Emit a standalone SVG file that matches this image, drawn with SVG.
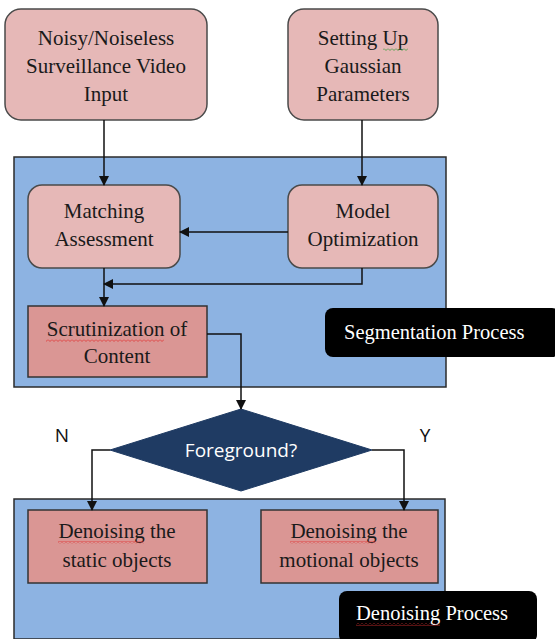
<svg xmlns="http://www.w3.org/2000/svg" width="555" height="639" viewBox="0 0 555 639">
<style>
.rbox{fill:#e6b8b7;stroke:#4a4a4a;stroke-width:1.5}
.sbox{fill:#da9694;stroke:#333;stroke-width:1.5}
.panel{fill:#8db3e2;stroke:#2b2b2b;stroke-width:1.5}
.t{font-family:"Liberation Serif","Times New Roman",serif;font-size:21px;fill:#1a1a1a;text-anchor:middle}
.lab{font-family:"Liberation Serif","Times New Roman",serif;font-size:20.5px;fill:#fff}
.sans{font-family:"Open Sans","Liberation Sans",sans-serif;font-size:19px;text-anchor:middle}
.yn{font-family:"Open Sans","Liberation Sans",sans-serif;font-size:19px;fill:#111;text-anchor:middle}
.conn{fill:none;stroke:#111;stroke-width:1.5}
</style>
<defs>
<marker id="ah" markerWidth="10" markerHeight="10" refX="9" refY="5" orient="auto" markerUnits="userSpaceOnUse">
<path d="M0,0 L10,5 L0,10 z" fill="#111"/>
</marker>
<pattern id="wavyRed" width="4" height="3" patternUnits="userSpaceOnUse">
<path d="M0,0.5 L2,2.5 L4,0.5" fill="none" stroke="#e03030" stroke-width="0.8"/>
</pattern>
<pattern id="wavyGreen" width="4" height="3" patternUnits="userSpaceOnUse">
<path d="M0,0.5 L2,2.5 L4,0.5" fill="none" stroke="#3a9a3a" stroke-width="0.8"/>
</pattern>
</defs>
<rect width="555" height="639" fill="#fff"/>
<g id="panel-seg"><rect class="panel" x="14" y="157" width="432" height="230"/></g>
<g id="panel-den"><rect class="panel" x="14" y="499" width="431" height="140"/></g>

<g id="n-input">
<rect class="rbox" x="5" y="9" width="202" height="111" rx="16"/>
<text class="t" x="106" y="45">Noisy/Noiseless</text>
<text class="t" x="106" y="73">Surveillance Video</text>
<text class="t" x="106" y="101">Input</text>
</g>
<g id="n-gauss">
<rect class="rbox" x="288" y="9" width="150" height="111" rx="16"/>
<text class="t" x="363" y="45">Setting Up</text>
<text class="t" x="363" y="73">Gaussian</text>
<text class="t" x="363" y="101">Parameters</text>
<rect x="383" y="48" width="25" height="3" fill="url(#wavyGreen)"/>
</g>
<g id="n-match">
<rect class="rbox" x="28" y="185" width="152" height="83" rx="14"/>
<text class="t" x="104" y="218">Matching</text>
<text class="t" x="104" y="246">Assessment</text>
</g>
<g id="n-model">
<rect class="rbox" x="288" y="185" width="150" height="83" rx="14"/>
<text class="t" x="363" y="218">Model</text>
<text class="t" x="363" y="246">Optimization</text>
</g>
<g id="n-scrut">
<rect class="sbox" x="28" y="306" width="179" height="71"/>
<text class="t" x="117" y="336">Scrutinization of</text>
<text class="t" x="117" y="363">Content</text>
<rect x="46" y="339" width="118" height="3" fill="url(#wavyRed)"/>
</g>
<g id="n-seglabel">
<rect x="325" y="308" width="235" height="49" rx="8" fill="#000"/>
<text class="lab" x="344" y="339">Segmentation Process</text>
</g>
<g id="n-fg">
<polygon points="241,409 372,450 241,491 110,450" fill="#1f3b63" stroke="#1f3b63"/>
<text class="sans" x="241" y="457" fill="#fff">Foreground?</text>
</g>
<g id="n-static">
<rect class="sbox" x="28" y="510" width="179" height="73"/>
<text class="t" x="117" y="538">Denoising the</text>
<text class="t" x="117" y="567">static objects</text>
<rect x="58" y="541" width="86" height="3" fill="url(#wavyRed)"/>
</g>
<g id="n-motion">
<rect class="sbox" x="261" y="510" width="177" height="73"/>
<text class="t" x="349" y="538">Denoising the</text>
<text class="t" x="349" y="567">motional objects</text>
<rect x="290" y="541" width="86" height="3" fill="url(#wavyRed)"/>
</g>
<g id="n-denlabel">
<rect x="339" y="591" width="198" height="52" rx="8" fill="#000"/>
<text class="lab" x="356" y="620">Denoising Process</text>
<rect x="356" y="623" width="84" height="3" fill="url(#wavyRed)"/>
</g>
<g id="n-N"><text class="yn" x="62" y="442">N</text></g>
<g id="n-Y"><text class="yn" x="425" y="442">Y</text></g>

<g id="connectors">
<path class="conn" d="M104,120 V185" marker-end="url(#ah)"/>
<path class="conn" d="M362,120 V185" marker-end="url(#ah)"/>
<path class="conn" d="M288,232 H180" marker-end="url(#ah)"/>
<path class="conn" d="M362,268 V284 H104" marker-end="url(#ah)"/>
<path class="conn" d="M104,268 V306" marker-end="url(#ah)"/>
<path class="conn" d="M207,334 H241 V409" marker-end="url(#ah)"/>
<path class="conn" d="M110,450 H92 V510" marker-end="url(#ah)"/>
<path class="conn" d="M372,450 H404 V510" marker-end="url(#ah)"/>
</g>
</svg>
